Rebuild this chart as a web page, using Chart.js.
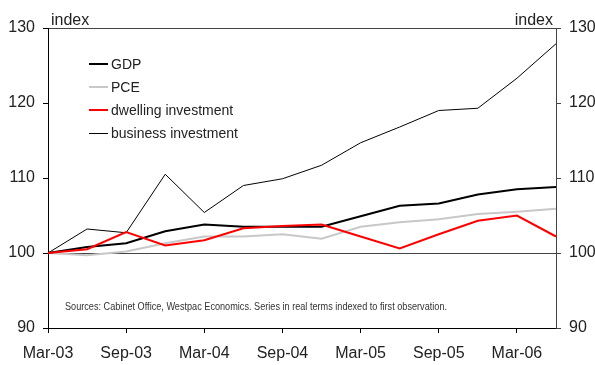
<!DOCTYPE html>
<html>
<head>
<meta charset="utf-8">
<title>GDP components</title>
<script src="https://cdn.jsdelivr.net/npm/chart.js@4.4.0/dist/chart.umd.min.js"></script>
<style>
  html, body { margin: 0; padding: 0; background: #fff; }
  #wrap { width: 595px; height: 365px; position: relative; }
</style>
</head>
<body>
<div id="wrap"><canvas id="chart"></canvas></div>
<script>
// quarterly observations, indexed to Mar-03 = 100
const quarters = ['Mar-03', 'Jun-03', 'Sep-03', 'Dec-03', 'Mar-04', 'Jun-04', 'Sep-04',
                  'Dec-04', 'Mar-05', 'Jun-05', 'Sep-05', 'Dec-05', 'Mar-06', 'Jun-06'];
const gdp      = [100, 100.8, 101.3, 102.9, 103.8, 103.5, 103.5, 103.5, 104.9, 106.3, 106.6, 107.8, 108.5, 108.8];
const pce      = [100, 99.7, 100.2, 101.3, 102.2, 102.2, 102.5, 101.9, 103.5, 104.1, 104.5, 105.2, 105.5, 105.9];
const dwelling = [100, 100.5, 102.8, 101.0, 101.7, 103.3, 103.6, 103.8, 102.2, 100.6, 102.5, 104.3, 105.0, 102.2];
const business = [100, 103.2, 102.7, 110.5, 105.4, 109.0, 109.9, 111.7, 114.7, 116.8, 119.0, 119.3, 123.3, 127.9];
const yTicks = [90, 100, 110, 120, 130];
const sourceNote = 'Sources: Cabinet Office, Westpac Economics. Series in real terms indexed to first observation.';

const FONT = '"Liberation Sans", Arial, sans-serif';

// "index" captions, the inline legend and the source note
const extras = {
  id: 'extras',
  afterDraw(chart) {
    const ctx = chart.ctx;
    const area = chart.chartArea;
    ctx.save();
    ctx.fillStyle = '#222';
    ctx.font = '16px ' + FONT;
    ctx.textBaseline = 'alphabetic';
    ctx.textAlign = 'left';
    ctx.fillText('index', area.left + 3, area.top - 3);
    ctx.textAlign = 'right';
    ctx.fillText('index', area.right - 3, area.top - 3);

    ctx.font = '14px ' + FONT;
    ctx.textAlign = 'left';
    ctx.textBaseline = 'middle';
    chart.data.datasets.forEach((ds, i) => {
      // odd widths sit on the half pixel so they stay crisp
      const y = 64 + i * 23 + (ds.borderWidth % 2 ? 0.5 : 0);
      ctx.strokeStyle = ds.borderColor;
      ctx.lineWidth = ds.borderWidth;
      ctx.beginPath();
      ctx.moveTo(89, y);
      ctx.lineTo(108, y);
      ctx.stroke();
      ctx.fillStyle = '#222';
      ctx.fillText(ds.label, 111, 64 + i * 23 + 1);
    });

    // note is set in a condensed style: squeeze it into its width
    ctx.font = '10px ' + FONT;
    ctx.fillStyle = '#333';
    const w = ctx.measureText(sourceNote).width;
    const sx = Math.min(1, 382 / w);
    ctx.translate(65, 307);
    ctx.scale(sx, 1);
    ctx.fillText(sourceNote, 0, 0);
    ctx.restore();
  }
};

const lineStyle = { pointRadius: 0, tension: 0, fill: false };

new Chart(document.getElementById('chart'), {
  type: 'line',
  data: {
    labels: quarters,
    datasets: [
      { label: 'GDP', data: gdp, borderColor: '#000000', borderWidth: 2, order: 2, ...lineStyle },
      { label: 'PCE', data: pce, borderColor: '#c8c8c8', borderWidth: 2, order: 4, ...lineStyle },
      { label: 'dwelling investment', data: dwelling, borderColor: '#ff0000', borderWidth: 2, order: 1, ...lineStyle },
      { label: 'business investment', data: business, borderColor: '#000000', borderWidth: 1, order: 3, ...lineStyle }
    ]
  },
  options: {
    responsive: true,
    maintainAspectRatio: false,
    animation: false,
    layout: { padding: { top: 28, left: 0, right: 0, bottom: 0 } },
    plugins: {
      legend: { display: false },
      tooltip: { enabled: false }
    },
    scales: {
      x: {
        offset: false,
        border: { color: '#000', width: 1 },
        grid: {
          drawOnChartArea: false,
          tickLength: 5,
          tickColor: ctx => ctx.index % 2 === 0 ? '#000' : 'rgba(0,0,0,0)'
        },
        ticks: {
          autoSkip: false,
          maxRotation: 0,
          padding: 11,
          color: '#222',
          font: { family: FONT, size: 16 },
          callback: (v, i) => i % 2 === 0 ? quarters[i] : ''
        },
        afterFit: s => { s.height = 37; }
      },
      y: {
        position: 'left',
        min: yTicks[0],
        max: yTicks[yTicks.length - 1],
        border: { color: '#000', width: 1 },
        grid: {
          tickLength: 5,
          tickColor: '#000',
          color: ctx => (ctx.tick && (ctx.tick.value === 100 || ctx.tick.value === 130)) ? '#444' : 'rgba(0,0,0,0)'
        },
        afterBuildTicks: s => { s.ticks = yTicks.map(v => ({ value: v })); },
        ticks: { padding: 8, color: '#222', font: { family: FONT, size: 16 } },
        afterFit: s => { s.width = 48; }
      },
      y2: {
        position: 'right',
        min: yTicks[0],
        max: yTicks[yTicks.length - 1],
        border: { color: '#444', width: 1 },
        grid: { drawOnChartArea: false, tickLength: 5, tickColor: '#444' },
        afterBuildTicks: s => { s.ticks = yTicks.map(v => ({ value: v })); },
        ticks: { padding: 8, color: '#222', font: { family: FONT, size: 16 } },
        afterFit: s => { s.width = 39; }
      }
    }
  },
  plugins: [extras]
});
</script>
</body>
</html>
